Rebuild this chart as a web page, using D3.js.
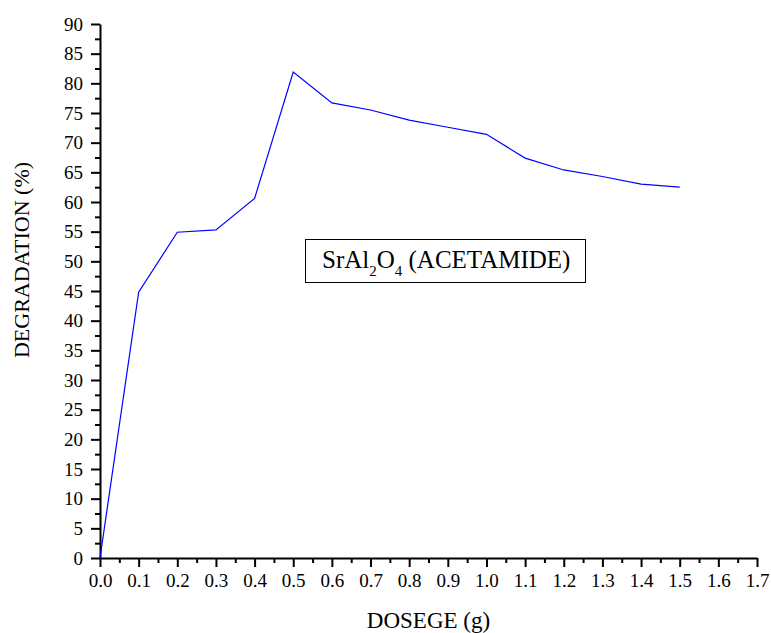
<!DOCTYPE html>
<html>
<head>
<meta charset="utf-8">
<script src="https://cdn.jsdelivr.net/npm/d3@7"></script>
<style>
  body { margin: 0; background: #fff; }
  svg { font-family: "Liberation Serif", "Times New Roman", serif; }
</style>
</head>
<body>
<script>
// dosage (g) vs degradation (%)
var dosage = [0.0, 0.1, 0.2, 0.3, 0.4, 0.5, 0.6, 0.7, 0.8, 0.9, 1.0, 1.1, 1.2, 1.3, 1.4, 1.5];
var degradation = [0.0, 44.8, 54.9, 55.3, 60.6, 81.9, 76.7, 75.5, 73.8, 72.6, 71.4, 67.4, 65.4, 64.3, 63.0, 62.5];
var xTicks = [0.0, 0.1, 0.2, 0.3, 0.4, 0.5, 0.6, 0.7, 0.8, 0.9, 1.0, 1.1, 1.2, 1.3, 1.4, 1.5, 1.6, 1.7];
var yTicks = [0, 5, 10, 15, 20, 25, 30, 35, 40, 45, 50, 55, 60, 65, 70, 75, 80, 85, 90];

var W = 771, H = 633;
var padL = 100, padT = 24, padR = 757, padB = 558;

var svg = d3.select("body").append("svg")
    .attr("width", W)
    .attr("height", H);

var x = d3.scaleLinear().domain([0, 1.7]).range([padL, padR]);
var y = d3.scaleLinear().domain([0, 90]).range([padB, padT]);

// minor ticks, halfway between the labelled ones
var xMinor = d3.range(0, 17).map(function(i){ return i*0.1 + 0.05; });
var yMinor = d3.range(0, 18).map(function(i){ return i*5 + 2.5; });

svg.append("g")
    .attr("transform", "translate(0," + padB + ")")
    .call(d3.axisBottom(x).tickValues(xMinor).tickSize(5).tickFormat(""))
    .call(function(g){ g.select(".domain").remove(); })
    .selectAll("line").attr("stroke-width", 2);

svg.append("g")
    .attr("transform", "translate(" + padL + ",0)")
    .call(d3.axisLeft(y).tickValues(yMinor).tickSize(5).tickFormat(""))
    .call(function(g){ g.select(".domain").remove(); })
    .selectAll("line").attr("stroke-width", 2);

var xAxis = svg.append("g")
    .attr("transform", "translate(0," + padB + ")")
    .call(d3.axisBottom(x).tickValues(xTicks).tickSizeInner(9).tickSizeOuter(0)
        .tickPadding(7).tickFormat(d3.format(".1f")));

var yAxis = svg.append("g")
    .attr("transform", "translate(" + padL + ",0)")
    .call(d3.axisLeft(y).tickValues(yTicks).tickSizeInner(9).tickSizeOuter(0)
        .tickPadding(8).tickFormat(d3.format("d")));

[xAxis, yAxis].forEach(function(g){
    g.attr("font-family", null).attr("font-size", null);
    g.select(".domain").attr("stroke-width", 2);
    g.selectAll(".tick line").attr("stroke-width", 2);
    g.selectAll(".tick text")
        .attr("font-size", 19)
        .attr("fill", "#000");
});

var line = d3.line()
    .x(function(d, i){ return x(dosage[i]); })
    .y(function(d){ return y(d); });

svg.append("path")
    .datum(degradation)
    .attr("fill", "none")
    .attr("stroke", "#0000ff")
    .attr("stroke-width", 1.2)
    .attr("d", line);

// axis titles
svg.append("text")
    .attr("x", (padL + padR) / 2)
    .attr("y", 628)
    .attr("text-anchor", "middle")
    .attr("font-size", 23)
    .text("DOSEGE (g)");

svg.append("text")
    .attr("transform", "translate(29,260) rotate(-90)")
    .attr("text-anchor", "middle")
    .attr("font-size", 22)
    .text("DEGRADATION (%)");

// legend box
svg.append("rect")
    .attr("x", 305.5).attr("y", 239.5)
    .attr("width", 280).attr("height", 43)
    .attr("fill", "none")
    .attr("stroke", "#000")
    .attr("stroke-width", 1);

var lt = svg.append("text")
    .attr("x", 322).attr("y", 268)
    .attr("font-size", 25);
lt.append("tspan").text("SrAl");
lt.append("tspan").attr("font-size", 15).attr("dy", 8).text("2");
lt.append("tspan").attr("dy", -8).text("O");
lt.append("tspan").attr("font-size", 15).attr("dy", 8).text("4");
lt.append("tspan").attr("dy", -8).text(" (ACETAMIDE)");
</script>
</body>
</html>
